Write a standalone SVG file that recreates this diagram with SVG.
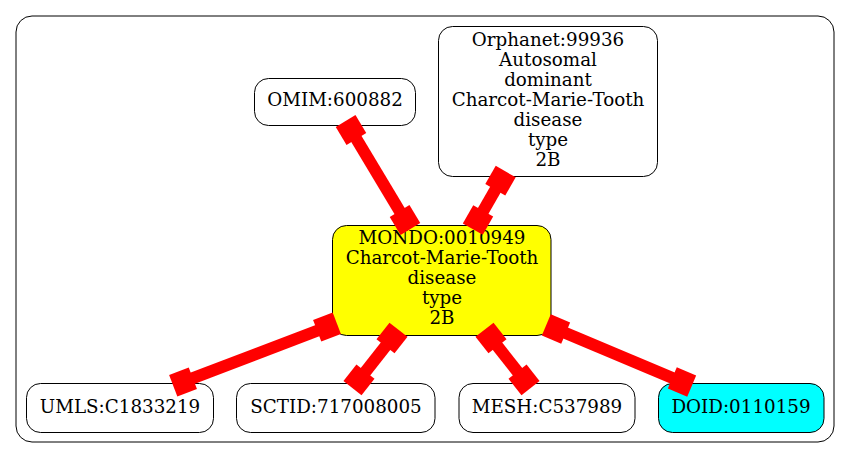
<svg xmlns="http://www.w3.org/2000/svg" width="851" height="459" viewBox="0 0 851 459">
<style>
.node rect{stroke:#000;stroke-width:1;fill:#fff}
.node text{font-family:"DejaVu Serif","Liberation Serif",serif;font-size:18.3px;text-anchor:middle;fill:#000}
.edge line{stroke:#f00;stroke-width:12}
</style>
<defs>
<rect id="bx" x="-10.5" y="-11.5" width="21" height="23" fill="#f00"/>
</defs>
<rect x="16" y="16" width="818" height="426" rx="16" fill="#fff" stroke="#000" stroke-width="1"/>
<g id="omim" class="node"><rect x="254.5" y="78.5" width="161" height="47" rx="14"/><text x="335" y="106">OMIM:600882</text></g>
<g id="orphanet" class="node"><rect x="438.5" y="26.5" width="219" height="150" rx="14"/>
<text x="548" y="46">Orphanet:99936</text><text x="548" y="66">Autosomal</text><text x="548" y="86">dominant</text><text x="548" y="106">Charcot-Marie-Tooth</text><text x="548" y="126">disease</text><text x="548" y="146">type</text><text x="548" y="166">2B</text></g>
<g id="mondo" class="node"><rect x="332.5" y="225.5" width="218.5" height="110" rx="14" style="fill:#ff0"/>
<text x="442" y="244">MONDO:0010949</text><text x="442" y="264">Charcot-Marie-Tooth</text><text x="442" y="284">disease</text><text x="442" y="304">type</text><text x="442" y="324">2B</text></g>
<g id="umls" class="node"><rect x="26.5" y="383.5" width="187" height="49" rx="14"/><text x="120" y="413">UMLS:C1833219</text></g>
<g id="sctid" class="node"><rect x="236.5" y="383.5" width="198.5" height="49" rx="14"/><text x="336" y="413">SCTID:717008005</text></g>
<g id="mesh" class="node"><rect x="459" y="383.5" width="176" height="49" rx="14"/><text x="547" y="413">MESH:C537989</text></g>
<g id="doid" class="node"><rect x="658.5" y="383.5" width="165.5" height="49" rx="14" style="fill:#0ff"/><text x="741" y="413">DOID:0110159</text></g>
<g id="edges" class="edge">
<g transform="translate(351,130) rotate(59.04)"><line x1="0" y1="0" x2="104.96" y2="0"/><use href="#bx"/><use href="#bx" x="104.96"/></g>
<g transform="translate(500.5,180.7) rotate(119.8)"><line x1="0" y1="0" x2="45.29" y2="0"/><use href="#bx"/><use href="#bx" x="45.29"/></g>
<g transform="translate(327,327) rotate(159.1)"><line x1="0" y1="0" x2="154.1" y2="0"/><use href="#bx"/><use href="#bx" x="154.1"/></g>
<g transform="translate(392,338) rotate(128.2)"><line x1="0" y1="0" x2="53.4" y2="0"/><use href="#bx"/><use href="#bx" x="53.4"/></g>
<g transform="translate(491,338) rotate(51.8)"><line x1="0" y1="0" x2="53.4" y2="0"/><use href="#bx"/><use href="#bx" x="53.4"/></g>
<g transform="translate(556,329) rotate(22.8)"><line x1="0" y1="0" x2="136.7" y2="0"/><use href="#bx"/><use href="#bx" x="136.7"/></g>
</g>
</svg>
